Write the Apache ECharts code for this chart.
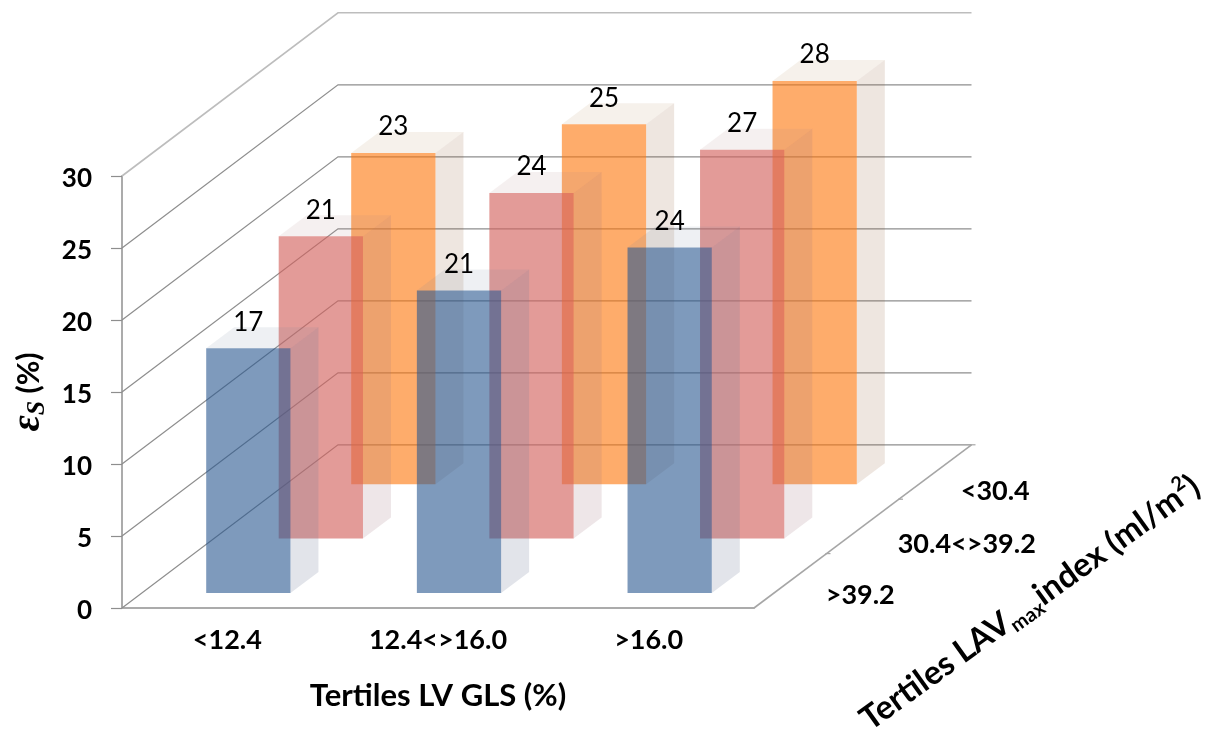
<!DOCTYPE html>
<html>
<head>
<meta charset="utf-8">
<style>
html, body { margin: 0; padding: 0; background: #fff; }
#chart { width: 1205px; height: 733px; }
</style>
<script src="https://cdn.jsdelivr.net/npm/echarts@6/dist/echarts.min.js"></script>
</head>
<body>
<div id="chart"></div>
<script>
// Global strain by tertiles of LV GLS (x) and LAVmax index (depth)
const glsTertiles = ['<12.4', '12.4<>16.0', '>16.0'];
const lavTertiles = ['>39.2', '30.4<>39.2', '<30.4'];
const strainTicks = [0, 5, 10, 15, 20, 25, 30];
const strainLavHigh = [17, 21, 24];
const strainLavMid = [21, 24, 27];
const strainLavLow = [23, 25, 28];

const FONT = 'Lato, Carlito, sans-serif';

// Oblique projection: how far one depth row shifts a point on screen
const DEPTH_DX = 72.5;
const DEPTH_DY = -54.4;
const ROW_START_DX = 21;     // gap between the front edge and the first bar
const ROW_START_DY = -15;
const BAR_DEPTH_DX = 28;
const BAR_DEPTH_DY = -21;
const depthLabelNudge = [[70, 14], [104, 18], [60, 19]];

const palette = [
  { front: 'rgba(40,87,143,0.6)',  side: 'rgba(110,120,150,0.2)',  top: 'rgba(117,133,158,0.12)' },
  { front: 'rgba(211,97,92,0.63)', side: 'rgba(160,116,127,0.18)', top: 'rgba(170,130,130,0.12)' },
  { front: 'rgba(254,117,8,0.6)',  side: 'rgba(140,87,47,0.15)',   top: 'rgba(180,140,90,0.12)' }
];

// One 3D column: side and top faces first, then the translucent front and its value
function columnRenderer(row) {
  const colors = palette[row];
  return function (params, api) {
    const cat = api.value(0);
    const value = api.value(1);
    const base = api.coord([cat, 0]);
    const tip = api.coord([cat, value]);
    const width = api.size([1, 0])[0] * 0.4;
    const cx = base[0] + ROW_START_DX + row * DEPTH_DX;
    const shift = ROW_START_DY + row * DEPTH_DY;
    const x1 = cx - width / 2, x2 = cx + width / 2;
    const y0 = base[1] + shift, yt = tip[1] + shift;
    const poly = (points, fill) => ({
      type: 'polygon', shape: { points }, style: { fill, stroke: null }
    });
    return {
      type: 'group',
      children: [
        poly([[x2, y0], [x2 + BAR_DEPTH_DX, y0 + BAR_DEPTH_DY], [x2 + BAR_DEPTH_DX, yt + BAR_DEPTH_DY], [x2, yt]], colors.side),
        poly([[x1, yt], [x1 + BAR_DEPTH_DX, yt + BAR_DEPTH_DY], [x2 + BAR_DEPTH_DX, yt + BAR_DEPTH_DY], [x2, yt]], colors.top),
        poly([[x1, y0], [x2, y0], [x2, yt], [x1, yt]], colors.front),
        {
          type: 'text',
          z2: 50,
          style: {
            x: cx, y: yt - 26, text: String(value), align: 'center', verticalAlign: 'middle',
            font: '400 26px ' + FONT, fill: '#000'
          }
        }
      ]
    };
  };
}

// Side wall and back wall gridline for one strain tick
function wallRenderer(params, api) {
  const value = api.value(0);
  const left = api.coord([0, value]);
  const halfBand = api.size([1, 0])[0] / 2;
  const x0 = left[0] - halfBand;
  const depthX = DEPTH_DX * 3 - 1.5;
  const depthY = DEPTH_DY * 3;
  const xRight = api.coord([2, value])[0] + halfBand + DEPTH_DX * 3;
  const lighter = value === strainTicks[strainTicks.length - 1];
  return {
    type: 'polyline',
    shape: { points: [[x0, left[1]], [x0 + depthX, left[1] + depthY], [xRight, left[1] + depthY]] },
    style: { fill: null, stroke: lighter ? '#bdbdbd' : '#8e8e8e', lineWidth: lighter ? 1.6 : 1.2 }
  };
}

// Floor's right edge with its ticks and the depth-row labels
function depthAxisRenderer(params, api) {
  const i = api.value(0);
  const halfBand = api.size([1, 0])[0] / 2;
  const corner = api.coord([2, 0]);
  const xc = corner[0] + halfBand;
  const yc = corner[1];
  const nudge = depthLabelNudge[i];
  const step = (k) => [xc + k * DEPTH_DX, yc + k * DEPTH_DY];
  const a = step(i), b = step(i + 1);
  const mid = step(i + 0.5);
  return {
    type: 'group',
    children: [
      { type: 'line', shape: { x1: a[0], y1: a[1], x2: b[0], y2: b[1] }, style: { stroke: '#a6a6a6', lineWidth: 1.6 } },
      { type: 'line', shape: { x1: b[0] - 1, y1: b[1], x2: b[0] + 4, y2: b[1] }, style: { stroke: '#a6a6a6', lineWidth: 1.2 } },
      {
        type: 'text',
        style: {
          x: mid[0] + nudge[0], y: mid[1] + nudge[1], text: lavTertiles[i], align: 'center', verticalAlign: 'middle',
          font: '700 27px ' + FONT, fill: '#000'
        }
      }
    ]
  };
}

const axisGrey = '#ababab';
const tickRows = strainTicks.map((t) => [t]);
const depthRows = lavTertiles.map((_, i) => [i]);

const chart = echarts.init(document.getElementById('chart'), null, { renderer: 'canvas' });
chart.setOption({
  animation: false,
  backgroundColor: '#fff',
  grid: { left: 122, right: 451, top: 176, bottom: 125, outerBoundsMode: 'none' },
  xAxis: {
    type: 'category',
    data: glsTertiles,
    axisLine: { lineStyle: { color: axisGrey, width: 2 } },
    axisTick: { length: 8, lineStyle: { color: '#8e8e8e', width: 1.2 } },
    axisLabel: { margin: 19, fontFamily: FONT, fontWeight: 700, fontSize: 27, color: '#000', interval: 0 },
    name: 'Tertiles LV GLS (%)',
    nameLocation: 'middle',
    nameMoveOverlap: false,
    nameGap: 70,
    nameTextStyle: { fontFamily: FONT, fontWeight: 700, fontSize: 31, color: '#000', lineHeight: 36 }
  },
  yAxis: {
    type: 'value',
    min: 0,
    max: 30,
    interval: 5,
    splitLine: { show: false },
    axisLine: { show: true, lineStyle: { color: axisGrey, width: 2 } },
    axisTick: { show: true, length: 11, lineStyle: { color: '#8e8e8e', width: 1.2 } },
    axisLabel: {
      margin: 30,
      formatter: '{n|{value}}',
      rich: { n: { padding: [6, 0, 0, 0], fontFamily: FONT, fontWeight: 700, fontSize: 26, color: '#000' } }
    },
    name: '{eps|ε}{sub|S}{txt| (%)}',
    nameLocation: 'middle',
    nameRotate: 90,
    nameMoveOverlap: false,
    nameGap: 72,
    nameTextStyle: {
      rich: {
        eps: { fontFamily: 'Liberation Serif', fontStyle: 'italic', fontWeight: 700, fontSize: 40, color: '#000', lineHeight: 42 },
        sub: { fontFamily: 'Liberation Serif', fontStyle: 'italic', fontWeight: 700, fontSize: 26, color: '#000', verticalAlign: 'bottom', lineHeight: 42 },
        txt: { fontFamily: FONT, fontWeight: 700, fontSize: 30, color: '#000', lineHeight: 42 }
      }
    }
  },
  series: [
    { type: 'custom', name: 'walls', coordinateSystem: 'cartesian2d', renderItem: wallRenderer, data: tickRows, encode: { y: 0 }, silent: true, clip: false, z: 1 },
    { type: 'custom', name: 'depth axis', coordinateSystem: 'cartesian2d', renderItem: depthAxisRenderer, data: depthRows, encode: { x: 0 }, silent: true, clip: false, z: 1 },
    { type: 'custom', name: 'LAV <30.4', coordinateSystem: 'cartesian2d', renderItem: columnRenderer(2), data: strainLavLow.map((v, i) => [i, v]), encode: { x: 0, y: 1 }, clip: false, z: 2 },
    { type: 'custom', name: 'LAV 30.4-39.2', coordinateSystem: 'cartesian2d', renderItem: columnRenderer(1), data: strainLavMid.map((v, i) => [i, v]), encode: { x: 0, y: 1 }, clip: false, z: 3 },
    { type: 'custom', name: 'LAV >39.2', coordinateSystem: 'cartesian2d', renderItem: columnRenderer(0), data: strainLavHigh.map((v, i) => [i, v]), encode: { x: 0, y: 1 }, clip: false, z: 4 }
  ],
  graphic: [{
    type: 'text',
    x: 1030,
    y: 603,
    rotation: 0.625,
    z: 10,
    style: {
      text: '{b|Tertiles LAV}{s|max}{b|index (ml/m}{p|2}{b|)}',
      align: 'center',
      verticalAlign: 'middle',
      rich: {
        b: { fontFamily: FONT, fontWeight: 700, fontSize: 33, fill: '#000', lineHeight: 40 },
        s: { fontFamily: FONT, fontWeight: 700, fontSize: 20, fill: '#000', verticalAlign: 'bottom', lineHeight: 40 },
        p: { fontFamily: FONT, fontWeight: 700, fontSize: 20, fill: '#000', verticalAlign: 'top', lineHeight: 40 }
      }
    }
  }]
});
</script>
</body>
</html>
